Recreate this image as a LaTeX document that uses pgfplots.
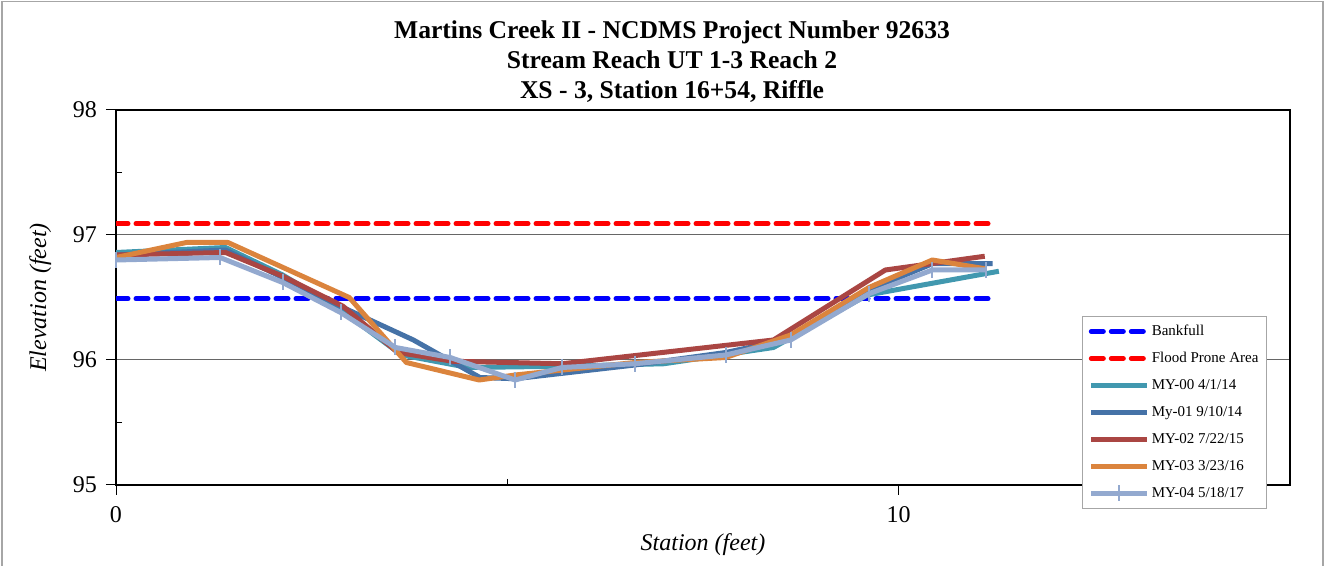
\documentclass[border=0pt]{standalone}
\usepackage{fontspec}
\setmainfont{Liberation Serif}
\usepackage{pgfplots}
\pgfplotsset{compat=1.18}
\definecolor{cTeal}{HTML}{4198AF}
\definecolor{cBlue}{HTML}{4572A7}
\definecolor{cRed}{HTML}{AA4643}
\definecolor{cOrange}{HTML}{DB843D}
\definecolor{cLight}{HTML}{93A9CF}
\begin{document}
\begin{tikzpicture}
\path[use as bounding box] (0pt,0pt) rectangle (662.5pt,283pt);
\draw[gray!70, line width=0.6pt] (1pt,0pt) -- (1pt,282.3pt) -- (661.5pt,282.3pt) -- (661.5pt,0pt);
\node[align=center, font=\fontsize{12.8}{15}\selectfont\bfseries] at (336pt,252pt)
 {Martins Creek II - NCDMS Project Number 92633\\Stream Reach UT 1-3 Reach 2\\XS - 3, Station 16+54, Riffle};
\begin{axis}[
 at={(58pt,40.5pt)}, anchor=south west,
 scale only axis, width=587pt, height=187.5pt,
 xmin=0, xmax=15, ymin=95, ymax=98,
 xtick={0,10}, minor xtick={5},
 ytick={95,96,97,98}, minor ytick={95.5,96.5,97.5},
 xtick pos=left, ytick pos=left,
 tick align=outside, major tick length=5pt, minor tick length=-3pt,
 tick style={black, line width=0.5pt},
 ymajorgrids, grid style={gray!80!black, line width=0.5pt},
 axis line style={black, line width=1.4pt},
 tick label style={font=\fontsize{12}{14}\selectfont},
 /pgf/number format/assume math mode=true,
 xticklabel style={yshift=-2pt},
 yticklabel style={xshift=-1pt},
 xlabel={\textit{Station (feet)}}, ylabel={\textit{Elevation (feet)}},
 label style={font=\fontsize{12}{14}\selectfont},
 xlabel style={yshift=1pt},
 ylabel style={yshift=4pt},
 legend cell align=left,
 legend style={at={(0.823,0.451)}, anchor=north west, draw=gray!70, line width=0.6pt,
   font=\fontsize{7.5}{9}\selectfont, row sep=4.5pt, inner sep=3pt,
   nodes={inner sep=1pt, text height=5.5pt, text depth=1.5pt}},
 legend image code/.code={\draw[mark repeat=2,mark phase=2] plot coordinates {(0pt,0pt) (14pt,0pt) (28pt,0pt)};},
 every axis plot/.append style={line width=2.5pt, line join=round},
]
\addplot[blue, dash pattern=on 6pt off 4pt, line cap=round, line width=2.5pt] coordinates {(0,96.49) (11.24,96.49)};
\addlegendentry{Bankfull}
\addplot[red, dash pattern=on 6pt off 4pt, line cap=round, line width=2.5pt] coordinates {(0,97.09) (11.24,97.09)};
\addlegendentry{Flood Prone Area}
\addplot[cTeal] coordinates {
(0,96.86) (1.4,96.90) (2.13,96.68) (2.87,96.40) (3.65,96.04) (4.5,95.94) (5.7,95.95) (7.0,95.97) (8.4,96.10) (9.6,96.52) (11.28,96.71)};
\addlegendentry{MY-00 4/1/14}
\addplot[cBlue] coordinates {
(0,96.84) (1.4,96.88) (2.13,96.66) (2.9,96.42) (3.8,96.16) (4.65,95.86) (5.1,95.85) (6.63,95.96) (7.79,96.06) (8.62,96.17) (9.62,96.56) (10.43,96.77) (11.2,96.77)};
\addlegendentry{My-01 9/10/14}
\addplot[cRed] coordinates {
(0,96.84) (1.4,96.86) (2.13,96.67) (2.9,96.43) (3.6,96.06) (4.3,95.99) (5.7,95.97) (8.4,96.16) (9.83,96.72) (11.1,96.83)};
\addlegendentry{MY-02 7/22/15}
\addplot[cOrange] coordinates {
(0,96.82) (0.9,96.94) (1.43,96.94) (2.98,96.50) (3.71,95.98) (4.64,95.84) (5.1,95.88) (6.63,95.98) (7.79,96.02) (8.62,96.20) (9.62,96.58) (10.43,96.80) (11.1,96.73)};
\addlegendentry{MY-03 3/23/16}
\addplot[cLight, mark=|, mark size=4pt, mark options={line width=1pt}] coordinates {
(0,96.80) (1.33,96.82) (2.13,96.62) (2.87,96.38) (3.57,96.10) (4.27,96.02) (5.10,95.84) (5.70,95.94) (6.63,95.97) (7.79,96.04) (8.62,96.16) (9.62,96.53) (10.43,96.72) (11.11,96.72)};
\addlegendentry{MY-04 5/18/17}
\end{axis}
\end{tikzpicture}
\end{document}
